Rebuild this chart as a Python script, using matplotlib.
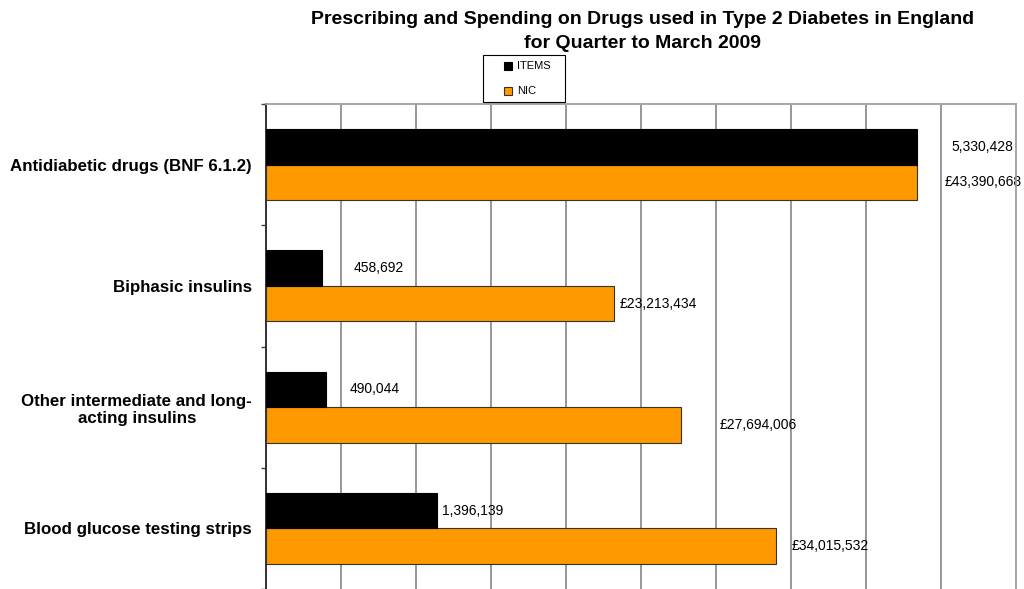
import matplotlib.pyplot as plt
from matplotlib.patches import Rectangle
from matplotlib.ticker import MultipleLocator, FixedLocator

plt.rcParams["font.family"] = ["Liberation Sans", "DejaVu Sans"]

categories = [
    "Antidiabetic drugs (BNF 6.1.2)",
    "Biphasic insulins",
    "Other intermediate and long-\nacting insulins",
    "Blood glucose testing strips",
]
items = [5330428, 458692, 490044, 1396139]
nic = [43390668, 23213434, 27694006, 34015532]
series_names = ["ITEMS", "NIC"]

# label nudges (pixels to the right of each bar end)
items_label_dx = [34, 32, 24, 5]
nic_label_dx = [28, 5, 38, 15]

NIC_AXIS_MAX = 50_000_000
ITEMS_AXIS_MAX = 6_140_000

W, H = 1024, 589
fig = plt.figure(figsize=(W / 100, H / 100), dpi=100)


def fx(px):
    return px / W


def fy(py):
    return 1 - py / H


ax = fig.add_axes([fx(266), 0.0, 750 / W, 485 / H])
ax2 = ax.twiny()

bar_h = 0.292
ypos = list(range(len(categories)))
colors = ["black", "#FF9900"]
edges = ["black", "#333333"]

ax.barh([y + bar_h / 2 for y in ypos], nic, height=bar_h,
        color=colors[1], edgecolor=edges[1], linewidth=0.8, zorder=3)
ax2.barh([y - bar_h / 2 for y in ypos], items, height=bar_h,
         color=colors[0], edgecolor=edges[0], linewidth=0.8, zorder=3)

ax.set_xlim(0, NIC_AXIS_MAX)
ax2.set_xlim(0, ITEMS_AXIS_MAX)
ax.set_ylim(len(categories) - 0.5, -0.5)
ax2.set_ylim(len(categories) - 0.5, -0.5)

# vertical gridlines
ax.xaxis.set_major_locator(MultipleLocator(5_000_000))
ax.grid(axis="x", color="#7a7a7a", linewidth=1.1, zorder=0)
ax.set_axisbelow(True)
ax.tick_params(axis="x", bottom=False, labelbottom=False)
ax2.tick_params(axis="x", top=False, labeltop=False)

# category labels with boundary ticks
ax.set_yticks(ypos)
ax.set_yticklabels(categories, fontsize=12.2, fontweight="bold")
for lab in ax.get_yticklabels():
    lab.set_multialignment("center")
ax.tick_params(axis="y", which="major", length=0, pad=10)
ax.yaxis.set_minor_locator(FixedLocator([i - 0.5 for i in range(len(categories) + 1)]))
ax.tick_params(axis="y", which="minor", length=3.5, width=1.0, color="#404040", direction="out")

for a in (ax, ax2):
    a.spines["bottom"].set_visible(False)
    a.spines["left"].set_color("#333333")
    a.spines["left"].set_linewidth(1.2)
    a.spines["top"].set_color("#a6a6a6")
    a.spines["top"].set_linewidth(1.2)
    a.spines["right"].set_color("#a6a6a6")
    a.spines["right"].set_linewidth(1.2)

# value labels
for y, v, dx in zip(ypos, items, items_label_dx):
    ax2.annotate(f"{v:,}", xy=(v, y - bar_h / 2), xytext=(dx * 0.72, 0),
                 textcoords="offset points", ha="left", va="center",
                 fontsize=10, zorder=5, annotation_clip=False)
for y, v, dx in zip(ypos, nic, nic_label_dx):
    ax.annotate(f"£{v:,}", xy=(v, y + bar_h / 2), xytext=(dx * 0.72, 0),
                textcoords="offset points", ha="left", va="center",
                fontsize=10, zorder=5, annotation_clip=False)

fig.text(fx(643), fy(11),
         "Prescribing and Spending on Drugs used in Type 2 Diabetes in England\nfor Quarter to March 2009",
         ha="center", va="top", fontsize=14, fontweight="bold", linespacing=1.5)

# legend box
fig.patches.append(Rectangle((fx(483), fy(102)), 82 / W, 47 / H,
                             transform=fig.transFigure, facecolor="white",
                             edgecolor="black", linewidth=0.8, zorder=5))
for name, c, ec, row_y in zip(series_names, colors, edges, [66, 91]):
    fig.patches.append(Rectangle((fx(504), fy(row_y + 4)), 8 / W, 8 / H,
                                 transform=fig.transFigure, facecolor=c,
                                 edgecolor=ec, linewidth=0.8, zorder=6))
    fig.text(fx(517), fy(row_y), name, ha="left", va="center", fontsize=8, zorder=6)

fig.savefig("out.png", dpi=100)
